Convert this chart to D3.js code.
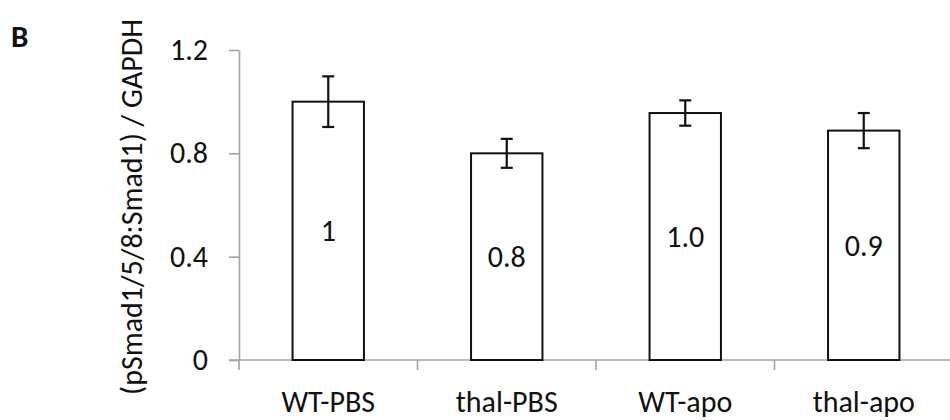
<!DOCTYPE html>
<html>
<head>
<meta charset="utf-8">
<script src="https://cdn.jsdelivr.net/npm/d3@7/dist/d3.min.js"></script>
<style>
  html, body { margin: 0; padding: 0; background: #fff; }
  svg { display: block; font-family: Calibri, Carlito, Lato, "Open Sans", sans-serif; }
</style>
</head>
<body>
<svg id="chart" width="950" height="420"></svg>
<script>
// Groups, measured ratios, their error bars and the printed value labels
const groups = ["WT-PBS", "thal-PBS", "WT-apo", "thal-apo"];
const ratios = [1.0, 0.80, 0.956, 0.888];
const errors = [0.098, 0.056, 0.049, 0.068];
const valueLabels = ["1", "0.8", "1.0", "0.9"];
const yTicks = [0, 0.4, 0.8, 1.2];
const yTickLabels = ["0", "0.4", "0.8", "1.2"];

const svg = d3.select("#chart");
const axisColor = "#a3a3a3";
const fontStack = "Calibri, Carlito, Lato, sans-serif";
const fs = 30;

const x = d3.scaleBand()
  .domain(groups)
  .range([239, 953])
  .paddingInner(0)
  .paddingOuter(0);

const y = d3.scaleLinear()
  .domain([0, 1.2])
  .range([360, 50]);

const barW = x.bandwidth() * 0.4;

// Panel letter
svg.append("text")
  .attr("x", 11).attr("y", 47)
  .attr("font-size", 31).attr("font-weight", "bold")
  .attr("fill", "#111")
  .text("B");

// Y axis
const yAxis = svg.append("g")
  .attr("transform", "translate(239,0)")
  .call(d3.axisLeft(y)
    .tickValues(yTicks)
    .tickFormat((d, i) => yTickLabels[i])
    .tickSizeInner(10)
    .tickSizeOuter(0)
    .tickPadding(21));
yAxis.select(".domain").attr("stroke", axisColor).attr("stroke-width", 1.6);
yAxis.selectAll(".tick line").attr("stroke", axisColor).attr("stroke-width", 1.6);
yAxis.selectAll(".tick text")
  .attr("font-size", fs).attr("fill", "#111")
  .attr("font-family", fontStack);

// Y axis title
svg.append("text")
  .attr("transform", "translate(142,207) rotate(-90)")
  .attr("text-anchor", "middle")
  .attr("font-size", fs)
  .attr("fill", "#111")
  .text("(pSmad1/5/8:Smad1) / GAPDH");

// X axis: baseline plus category boundary ticks
svg.append("line")
  .attr("x1", 229).attr("x2", 950)
  .attr("y1", y(0)).attr("y2", y(0))
  .attr("stroke", axisColor).attr("stroke-width", 1.6);

const boundaries = groups.map(g => x(g)).concat([x.range()[1]]);
svg.append("g").selectAll("line")
  .data(boundaries)
  .join("line")
  .attr("x1", d => d).attr("x2", d => d)
  .attr("y1", y(0)).attr("y2", y(0) + 10)
  .attr("stroke", axisColor).attr("stroke-width", 1.6);

svg.append("g").selectAll("text")
  .data(groups)
  .join("text")
  .attr("x", d => x(d) + x.bandwidth() / 2)
  .attr("y", 412)
  .attr("text-anchor", "middle")
  .attr("font-size", fs)
  .attr("fill", "#111")
  .text(d => d);

// Bars
const data = groups.map((g, i) => ({ g, v: ratios[i], e: errors[i], label: valueLabels[i] }));

svg.append("g").selectAll("rect")
  .data(data)
  .join("rect")
  .attr("x", d => x(d.g) + x.bandwidth() / 2 - barW / 2)
  .attr("y", d => y(d.v))
  .attr("width", barW)
  .attr("height", d => y(0) - y(d.v))
  .attr("fill", "#fff")
  .attr("stroke", "#111")
  .attr("stroke-width", 2);

// Error bars
const capW = 12;
const eb = svg.append("g").selectAll("g")
  .data(data)
  .join("g")
  .attr("stroke", "#111")
  .attr("stroke-width", 2.2);
eb.append("line")
  .attr("x1", d => x(d.g) + x.bandwidth() / 2)
  .attr("x2", d => x(d.g) + x.bandwidth() / 2)
  .attr("y1", d => y(d.v + d.e))
  .attr("y2", d => y(d.v - d.e));
eb.append("line")
  .attr("x1", d => x(d.g) + x.bandwidth() / 2 - capW / 2)
  .attr("x2", d => x(d.g) + x.bandwidth() / 2 + capW / 2)
  .attr("y1", d => y(d.v + d.e))
  .attr("y2", d => y(d.v + d.e));
eb.append("line")
  .attr("x1", d => x(d.g) + x.bandwidth() / 2 - capW / 2)
  .attr("x2", d => x(d.g) + x.bandwidth() / 2 + capW / 2)
  .attr("y1", d => y(d.v - d.e))
  .attr("y2", d => y(d.v - d.e));

// Value labels inside the bars
svg.append("g").selectAll("text")
  .data(data)
  .join("text")
  .attr("x", d => x(d.g) + x.bandwidth() / 2)
  .attr("y", d => y(d.v / 2))
  .attr("dy", "0.35em")
  .attr("text-anchor", "middle")
  .attr("font-size", fs)
  .attr("fill", "#111")
  .text(d => d.label);
</script>
</body>
</html>
